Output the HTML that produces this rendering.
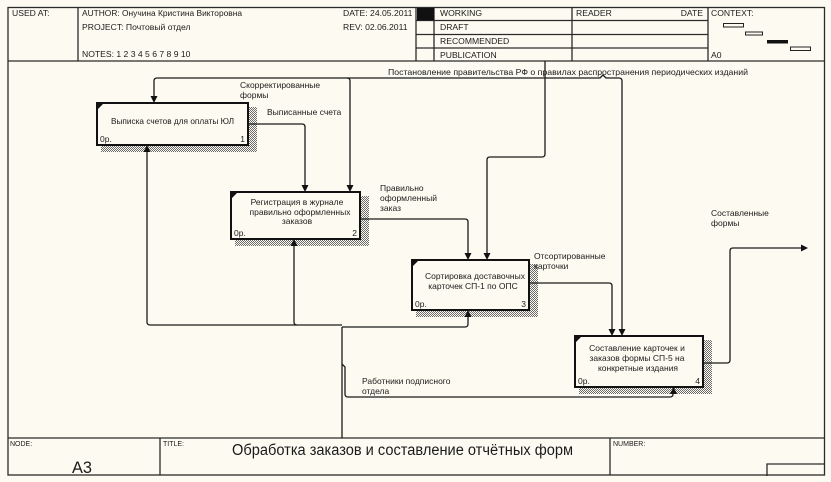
<!DOCTYPE html>
<html><head><meta charset="utf-8">
<style>
html,body{margin:0;padding:0;background:#fdfbf1;}
svg{display:block;}
text{font-family:"Liberation Sans","DejaVu Sans",sans-serif;fill:#1a1a1a;}
.s{font-size:8.5px;}
.h{font-size:8.6px;}
.f{font-size:7px;}
</style></head>
<body>
<svg width="831" height="482" viewBox="0 0 831 482" xmlns="http://www.w3.org/2000/svg">
<defs>
<pattern id="hat" width="2" height="2" patternUnits="userSpaceOnUse">
<rect x="0" y="0" width="1" height="1" fill="#6a6a6a"/>
<rect x="1" y="1" width="1" height="1" fill="#6a6a6a"/>
</pattern>
</defs>
<rect width="831" height="482" fill="#fdfbf1"/>

<!-- Frame -->
<g fill="none" stroke="#2a2a2a" stroke-width="1.3">
<rect x="8" y="7.5" width="816.5" height="467.5"/>
<line x1="8" y1="61" x2="824.5" y2="61"/>
<line x1="78" y1="7.5" x2="78" y2="61"/>
<line x1="416" y1="7.5" x2="416" y2="61"/>
<line x1="434" y1="7.5" x2="434" y2="61"/>
<line x1="572" y1="7.5" x2="572" y2="61"/>
<line x1="708" y1="7.5" x2="708" y2="61"/>
<line x1="416" y1="20.5" x2="708" y2="20.5"/>
<line x1="416" y1="34.5" x2="708" y2="34.5"/>
<line x1="416" y1="48" x2="708" y2="48"/>
<!-- footer -->
<line x1="8" y1="438" x2="824.5" y2="438"/>
<line x1="160" y1="438" x2="160" y2="475"/>
<line x1="610" y1="438" x2="610" y2="475"/>
<polyline points="767,476 767,464 824.5,464"/>
</g>
<rect x="417" y="8" width="17" height="12.5" fill="#111"/>

<!-- context -->
<g stroke="#222" stroke-width="1" fill="#fdfbf1">
<rect x="723.5" y="23.5" width="20" height="3.5"/>
<rect x="745.5" y="32" width="17" height="3"/>
<rect x="790.5" y="47" width="20" height="3.5"/>
</g>
<rect x="767" y="40" width="21" height="3.5" fill="#111"/>

<!-- header text -->
<text class="h" x="12" y="16">USED AT:</text>
<text class="h" x="82" y="16" textLength="160" lengthAdjust="spacingAndGlyphs">AUTHOR:  Онучина Кристина Викторовна</text>
<text class="h" x="82" y="30">PROJECT:  Почтовый отдел</text>
<text class="h" x="82" y="57">NOTES:  1  2  3  4  5  6  7  8  9  10</text>
<text class="h" x="343" y="16">DATE:  24.05.2011</text>
<text class="h" x="343" y="30">REV:   02.06.2011</text>
<text class="h" x="440" y="16">WORKING</text>
<text class="h" x="440" y="30">DRAFT</text>
<text class="h" x="440" y="44">RECOMMENDED</text>
<text class="h" x="440" y="58">PUBLICATION</text>
<text class="h" x="576" y="16">READER</text>
<text class="h" x="703" y="16" text-anchor="end">DATE</text>
<text class="h" x="711" y="16">CONTEXT:</text>
<text class="h" x="711" y="58">A0</text>

<!-- footer text -->
<text class="f" x="10" y="446">NODE:</text>
<text class="f" x="163" y="446">TITLE:</text>
<text class="f" x="613" y="446">NUMBER:</text>
<text x="232" y="455" style="font-size:15.5px" textLength="341" lengthAdjust="spacingAndGlyphs">Обработка заказов и составление отчётных форм</text>
<text x="72" y="473" style="font-size:16.5px" textLength="20" lengthAdjust="spacingAndGlyphs">A3</text>

<!-- shadows -->
<g fill="url(#hat)">
<rect x="249" y="107" width="8" height="45"/>
<rect x="101" y="146" width="156" height="6"/>
<rect x="361" y="196" width="8" height="50"/>
<rect x="235" y="240" width="134" height="6"/>
<rect x="530" y="264" width="8" height="53"/>
<rect x="416" y="311" width="122" height="6"/>
<rect x="704" y="340" width="8" height="54"/>
<rect x="579" y="388" width="133" height="6"/>
</g>

<!-- boxes -->
<g fill="#fdfbf1" stroke="#111" stroke-width="2">
<rect x="97" y="103" width="151" height="42"/>
<rect x="231" y="192" width="129" height="47"/>
<rect x="412" y="260" width="117" height="50"/>
<rect x="575" y="336" width="128" height="51"/>
</g>
<g fill="#111">
<polygon points="98,104 103,104 98,109"/>
<polygon points="232,193 237,193 232,198"/>
<polygon points="413,261 418,261 413,266"/>
<polygon points="576,337 581,337 576,342"/>
</g>

<!-- box text -->
<text class="s" x="172.5" y="124" text-anchor="middle" textLength="123" lengthAdjust="spacingAndGlyphs">Выписка счетов для оплаты ЮЛ</text>
<text class="s" x="100" y="142">0р.</text><text class="s" x="245" y="142" text-anchor="end">1</text>

<text class="s" x="297" y="205" text-anchor="middle">Регистрация в журнале</text>
<text class="s" x="300" y="215" text-anchor="middle">правильно оформленных</text>
<text class="s" x="297" y="224" text-anchor="middle">заказов</text>
<text class="s" x="234" y="236">0р.</text><text class="s" x="357" y="236" text-anchor="end">2</text>

<text class="s" x="475" y="279" text-anchor="middle">Сортировка доставочных</text>
<text class="s" x="473" y="289" text-anchor="middle">карточек СП-1 по ОПС</text>
<text class="s" x="415" y="307">0р.</text><text class="s" x="526" y="307" text-anchor="end">3</text>

<text class="s" x="637" y="351" text-anchor="middle">Составление карточек и</text>
<text class="s" x="637" y="361" text-anchor="middle">заказов формы СП-5 на</text>
<text class="s" x="638" y="371" text-anchor="middle">конкретные издания</text>
<text class="s" x="578" y="384">0р.</text><text class="s" x="700" y="384" text-anchor="end">4</text>

<!-- connectors -->
<g fill="none" stroke="#1a1a1a" stroke-width="1.3">
<!-- control top -->
<path d="M545,61 V154 Q545,157 542,157 H490 Q487,157 487,160 V254"/>
<path d="M154,97 V81 Q154,78 157,78 H600 L603,75 L606,78 H619 Q622,78 622,81 V330"/>
<path d="M350,81 V186"/>
<path d="M347,78 Q350,78 350,81"/>
<!-- box1 output -->
<path d="M248,124 H302 Q305,124 305,127 V186"/>
<!-- box2 output -->
<path d="M360,219 H465 Q468,219 468,222 V254"/>
<!-- box3 output -->
<path d="M529,283 H609 Q612,283 612,286 V330"/>
<!-- box4 output -->
<path d="M703,363 H727 Q730,363 730,360 V251 Q730,248 733,248 H802"/>
<!-- mechanism -->
<path d="M342,438 V327"/>
<path d="M342,325 H150 Q147,325 147,322 V151"/>
<path d="M297,325 Q294,325 294,322 V245"/>
<path d="M342,327 H465 Q468,327 468,324 V316"/>
<path d="M342,364 L345,367 V394 Q345,397 348,397 H670 Q673,397 673,394 V393"/>
</g>

<!-- arrowheads -->
<g fill="#111">
<polygon points="150.5,96 157.5,96 154,103"/>
<polygon points="346.5,185 353.5,185 350,192"/>
<polygon points="301.5,185 308.5,185 305,192"/>
<polygon points="464.5,253 471.5,253 468,260"/>
<polygon points="483.5,253 490.5,253 487,260"/>
<polygon points="608.5,329 615.5,329 612,336"/>
<polygon points="618.5,329 625.5,329 622,336"/>
<polygon points="801,244.5 808,248 801,251.5"/>
<polygon points="143.5,152 150.5,152 147,145"/>
<polygon points="290.5,246 297.5,246 294,239"/>
<polygon points="464.5,317 471.5,317 468,310"/>
<polygon points="670,394 677,394 673.5,387"/>
</g>

<!-- labels -->
<text class="s" x="240" y="88">Скорректированные</text>
<text class="s" x="240" y="98">формы</text>
<text class="s" x="267" y="115">Выписанные счета</text>
<text class="s" x="388" y="75" textLength="360" lengthAdjust="spacingAndGlyphs">Постановление правительства РФ о правилах распространения периодических изданий</text>
<text class="s" x="380" y="191">Правильно</text>
<text class="s" x="380" y="201">оформленный</text>
<text class="s" x="380" y="211">заказ</text>
<text class="s" x="534" y="259">Отсортированные</text>
<text class="s" x="534" y="269">карточки</text>
<text class="s" x="711" y="216">Составленные</text>
<text class="s" x="711" y="226">формы</text>
<text class="s" x="362" y="384">Работники подписного</text>
<text class="s" x="362" y="394">отдела</text>
</svg>
</body></html>
